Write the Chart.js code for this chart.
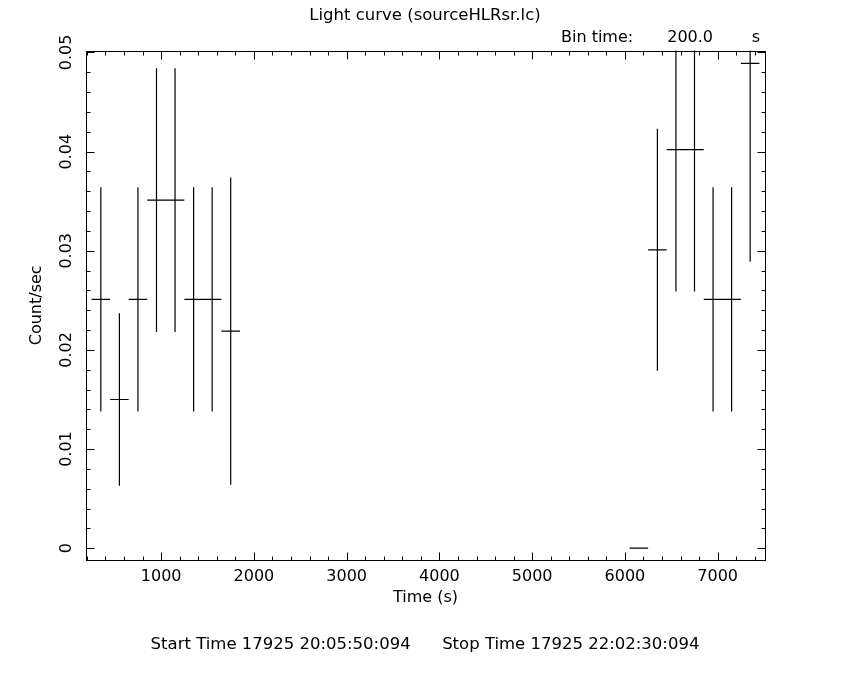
<!DOCTYPE html>
<html>
<head>
<meta charset="utf-8">
<script src="https://cdn.jsdelivr.net/npm/chart.js@4.4.1/dist/chart.umd.min.js"></script>
<style>
  html, body { margin: 0; padding: 0; background: #fff; }
</style>
</head>
<body>
<canvas id="lc" width="850" height="680"></canvas>
<script>
// light curve, bin time 200 s
const binTimes = [350, 550, 750, 950, 1150, 1350, 1550, 1750, 6150, 6350, 6550, 6750, 6950, 7150, 7350];
const countRates = [0.0251, 0.0150, 0.0251, 0.0351, 0.0351, 0.0251, 0.0251, 0.0219, 0, 0.0301, 0.0402, 0.0402, 0.0251, 0.0251, 0.0489];
const rateErrors = [0.0113, 0.0087, 0.0113, 0.0133, 0.0133, 0.0113, 0.0113, 0.0155, 0, 0.0122, 0.0143, 0.0143, 0.0113, 0.0113, 0.0200];
const halfBin = 100;

const xTickValues = [1000, 2000, 3000, 4000, 5000, 6000, 7000];
const xTickLabels = ["1000", "2000", "3000", "4000", "5000", "6000", "7000"];
const yTickValues = [0, 0.01, 0.02, 0.03, 0.04, 0.05];
const yTickLabels = ["0", "0.01", "0.02", "0.03", "0.04", "0.05"];
const xMinorStep = 200;
const yMinorStep = 0.002;

const FONT = "'DejaVu Sans', sans-serif";

// each bin = horizontal bar (bin width) + vertical error bar, split by nulls
const barPoints = [];
binTimes.forEach((t, i) => {
  const r = countRates[i], e = rateErrors[i];
  barPoints.push({ x: t - halfBin, y: r }, { x: t + halfBin, y: r }, { x: t, y: null });
  if (e > 0) {
    barPoints.push({ x: t, y: r - e }, { x: t, y: r + e }, { x: t, y: null });
  }
});

// frame with inward ticks on all 4 sides, rotated y labels, bin time note
const framePlugin = {
  id: "frame",
  afterDraw(chart) {
    const { ctx, chartArea: a, scales } = chart;
    const xs = scales.x, ys = scales.y;
    ctx.save();
    ctx.strokeStyle = "#000";
    ctx.lineWidth = 1;
    const L = Math.round(a.left) + 0.5, R = Math.round(a.right) + 0.5;
    const T = Math.round(a.top) + 0.5, B = Math.round(a.bottom) + 0.5;
    ctx.strokeRect(L, T, R - L, B - T);
    ctx.beginPath();
    for (let v = Math.ceil(xs.min / xMinorStep) * xMinorStep; v <= xs.max; v += xMinorStep) {
      const px = Math.round(xs.getPixelForValue(v)) + 0.5;
      const len = v % 1000 === 0 ? 8 : 4;
      ctx.moveTo(px, B); ctx.lineTo(px, B - len);
      ctx.moveTo(px, T); ctx.lineTo(px, T + len);
    }
    const n0 = Math.ceil(ys.min / yMinorStep - 1e-6);
    for (let k = n0; k * yMinorStep <= ys.max + 1e-9; k++) {
      const py = Math.round(ys.getPixelForValue(k * yMinorStep)) + 0.5;
      const len = k % 5 === 0 ? 8 : 4;
      ctx.moveTo(L, py); ctx.lineTo(L + len, py);
      ctx.moveTo(R, py); ctx.lineTo(R - len, py);
    }
    ctx.stroke();

    ctx.fillStyle = "#000";
    ctx.font = "16px " + FONT;
    ctx.textAlign = "center";
    ctx.textBaseline = "middle";
    yTickValues.forEach((v, i) => {
      ctx.save();
      ctx.translate(67, ys.getPixelForValue(v));
      ctx.rotate(-Math.PI / 2);
      ctx.fillText(yTickLabels[i], 0, 0);
      ctx.restore();
    });

    ctx.textAlign = "left";
    ctx.fillText("Bin time:", 561, 38);
    ctx.textAlign = "right";
    ctx.fillText("200.0", 713, 38);
    ctx.fillText("s", a.right - 5, 38);
    ctx.restore();
  }
};

new Chart(document.getElementById("lc"), {
  type: "scatter",
  data: {
    datasets: [{
      data: barPoints,
      showLine: true,
      spanGaps: false,
      borderColor: "#000",
      borderWidth: 1.2,
      pointRadius: 0,
      pointHoverRadius: 0,
      fill: false,
      tension: 0
    }]
  },
  options: {
    responsive: false,
    animation: false,
    events: [],
    layout: { padding: 0 },
    plugins: {
      legend: { display: false },
      tooltip: { enabled: false },
      title: {
        display: true,
        text: "Light curve (sourceHLRsr.lc)",
        color: "#000",
        font: { family: FONT, size: 16.5, weight: "normal" },
        padding: { top: 6, bottom: 24.7 }
      },
      subtitle: {
        display: true,
        position: "bottom",
        text: "Start Time 17925 20:05:50:094      Stop Time 17925 22:02:30:094",
        color: "#000",
        font: { family: FONT, size: 16.5, weight: "normal" },
        padding: { top: 0, bottom: 25.1 }
      }
    },
    scales: {
      x: {
        type: "linear",
        min: 190,
        max: 7510,
        grid: { display: false, drawTicks: false },
        border: { display: false },
        ticks: {
          stepSize: 200,
          autoSkip: false,
          maxRotation: 0,
          padding: 7,
          color: "#000",
          font: { family: FONT, size: 16 },
          callback: v => {
            const i = xTickValues.indexOf(v);
            return i >= 0 ? xTickLabels[i] : "";
          }
        },
        title: {
          display: true,
          text: "Time (s)",
          color: "#000",
          font: { family: FONT, size: 16 },
          padding: { top: 0, bottom: 28 }
        },
        afterFit: s => { s.height = 75; }
      },
      y: {
        type: "linear",
        min: -0.0012,
        max: 0.0502,
        grid: { display: false, drawTicks: false },
        border: { display: false },
        ticks: { display: false },
        title: {
          display: true,
          text: "Count/sec",
          color: "#000",
          font: { family: FONT, size: 16 },
          padding: { top: 27, bottom: 0 }
        },
        afterFit: s => { s.width = 86; }
      },
      // empty right-hand box so the plot ends at x = 765 while titles stay centred on the page
      yRight: {
        type: "linear",
        position: "right",
        min: -0.0012,
        max: 0.0502,
        grid: { display: false, drawTicks: false },
        border: { display: false },
        ticks: { display: false },
        afterFit: s => { s.width = 85; }
      }
    }
  },
  plugins: [framePlugin]
});
</script>
</body>
</html>
